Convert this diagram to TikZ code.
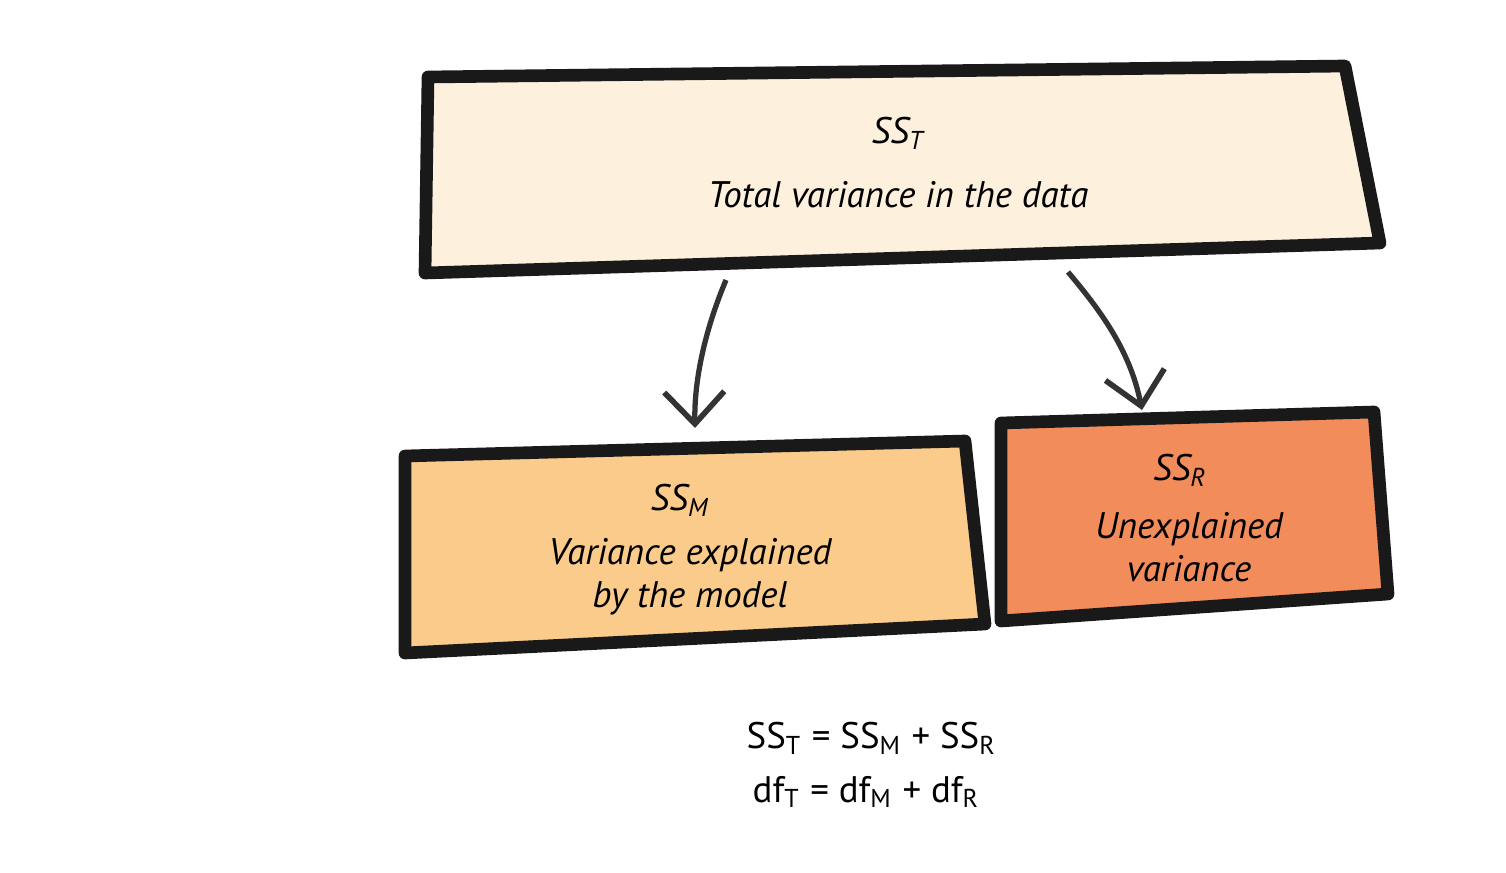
\documentclass[tikz,border=0pt]{standalone}
\usepackage{fontspec}
\setmainfont{PT Sans}
\usetikzlibrary{arrows.meta}
\newcommand{\sub}[1]{\textsubscript{#1}}
\tikzset{
  box/.style={line width=3.6pt,line join=round,draw=black!90},
  lbl/.style={font=\fontsize{10.5}{12.3}\selectfont\itshape,align=center},
  eqn/.style={font=\fontsize{10.5}{12.3}\selectfont,anchor=west,inner sep=0pt},
  arr/.style={line width=1.5pt,draw=black!80,-{Straight Barb[length=3.2mm,width=6mm,line width=1.6pt]}}
}
\definecolor{totfill}{HTML}{FDF0DC}
\definecolor{modfill}{HTML}{FBCB8B}
\definecolor{resfill}{HTML}{F28C5B}
\begin{document}
\begin{tikzpicture}[x=0.01cm,y=-0.01cm]
\useasboundingbox (0,0) rectangle (1506,873);
\draw[box,fill=totfill](428,77)--(1345,66)--(1380,243)--(425,273)--cycle;
\draw[box,fill=modfill](405,456)--(965,441)--(985,624)--(405,653)--cycle;
\draw[box,fill=resfill](1001,423)--(1374,412)--(1388,594)--(1001,621)--cycle;
%
\node[lbl](sst) at (898,133){SS\sub{T}};
\node[lbl](tot) at (898,195){Total variance in the data};
\node[lbl](ssm) at (680,500){SS\sub{M}};
\node[lbl](mod) at (690,577){Variance explained\\by the model};
\node[lbl](ssr) at (1180,470){SS\sub{R}};
\node[lbl](res) at (1189,547){Unexplained\\variance};
%
\coordinate(ta) at (726,280);
\coordinate(tb) at (1068,272);
\coordinate(ma) at (695,428);
\coordinate(rb) at (1142,410);
\draw[arr](ta) .. controls (705,330) and (694,380) .. (ma);
\draw[arr](tb) .. controls (1100,310) and (1130,350) .. (rb);
%
\node[eqn](eq1) at (746,738){SS\sub{T} = SS\sub{M} + SS\sub{R}};
\node[eqn](eq2) at (752,792){df\sub{T} = df\sub{M} + df\sub{R}};
\end{tikzpicture}
\end{document}
